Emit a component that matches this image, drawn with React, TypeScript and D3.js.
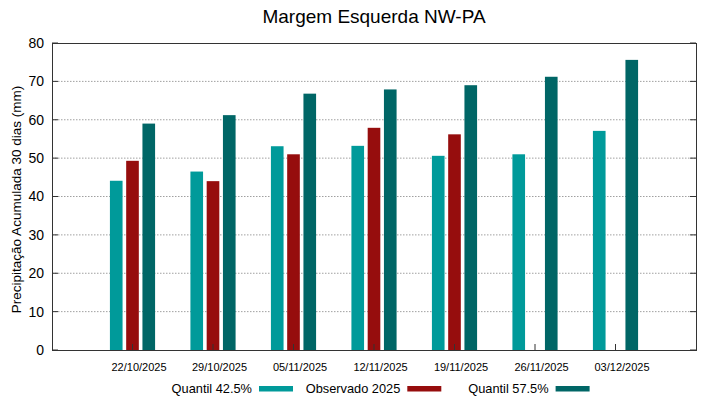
import { useEffect, useRef } from "react";
import * as d3 from "d3";

const categories = ["22/10/2025", "29/10/2025", "05/11/2025", "12/11/2025", "19/11/2025", "26/11/2025", "03/12/2025"];
const quantil425 = [44.1, 46.5, 53.1, 53.2, 50.6, 51.0, 57.1];
const observado2025 = [49.3, 44.0, 51.0, 57.9, 56.2, null, null];
const quantil575 = [59.0, 61.2, 66.8, 67.9, 69.0, 71.2, 75.6];
const yTicks = [0, 10, 20, 30, 40, 50, 60, 70, 80];

const series = [
  { name: "Quantil 42.5%", values: quantil425, color: "#009a9a" },
  { name: "Observado 2025", values: observado2025, color: "#960d0d" },
  { name: "Quantil 57.5%", values: quantil575, color: "#006666" },
];

const W = 719;
const H = 399;
const margin = { left: 52, right: 23, top: 43, bottom: 49 };
const font = "'Liberation Sans', Arial, sans-serif";

export default function App() {
  const svgRef = useRef<SVGSVGElement>(null);

  useEffect(() => {
    const svg = d3.select(svgRef.current);
    svg.selectAll("*").remove();

    const x0 = margin.left;
    const x1 = W - margin.right;
    const yTop = margin.top;
    const yBot = H - margin.bottom;

    // group centers: one empty slot on each side
    const x = d3.scaleLinear().domain([-1, categories.length]).range([x0, x1]);
    const y = d3.scaleLinear().domain([0, 80]).range([yBot, yTop]);
    const step = x(1) - x(0);
    const barW = step * 0.157;
    const barGap = step * 0.202;

    // grid
    svg.selectAll(".grid")
      .data(yTicks.filter(t => t > 0 && t < 80))
      .join("line")
      .attr("x1", x0).attr("x2", x1)
      .attr("y1", d => y(d)).attr("y2", d => y(d))
      .attr("stroke", "#a0a0a0")
      .attr("stroke-width", 1)
      .attr("stroke-dasharray", "1.5,1.5");

    // bars
    series.forEach((s, si) => {
      svg.append("g")
        .selectAll("rect")
        .data(s.values.map((v, i) => ({ v, i })).filter(d => d.v != null))
        .join("rect")
        .attr("x", d => x(d.i) + (si - 1) * barGap - barW / 2)
        .attr("y", d => y(d.v as number))
        .attr("width", barW)
        .attr("height", d => yBot - y(d.v as number))
        .attr("fill", s.color);
    });

    // frame
    svg.append("rect")
      .attr("x", x0 + 0.5).attr("y", yTop + 0.5)
      .attr("width", x1 - x0).attr("height", yBot - yTop)
      .attr("fill", "none").attr("stroke", "#333").attr("stroke-width", 1);

    // y ticks + labels
    const yt = svg.append("g");
    yTicks.forEach(t => {
      yt.append("line").attr("x1", x0).attr("x2", x0 + 6).attr("y1", y(t)).attr("y2", y(t)).attr("stroke", "#333");
      yt.append("line").attr("x1", x1 - 6).attr("x2", x1).attr("y1", y(t)).attr("y2", y(t)).attr("stroke", "#333");
      yt.append("text")
        .attr("x", x0 - 8).attr("y", y(t)).attr("dy", "0.35em")
        .attr("text-anchor", "end")
        .attr("font-family", font).attr("font-size", 14)
        .text(t);
    });

    // x ticks
    categories.forEach((c, i) => {
      svg.append("line")
        .attr("x1", x(i)).attr("x2", x(i))
        .attr("y1", yBot).attr("y2", yBot - 6)
        .attr("stroke", "#333");
    });

    // x labels (slightly right of the tick, like gnuplot)
    svg.append("g")
      .selectAll("text")
      .data(categories)
      .join("text")
      .attr("x", (d, i) => x(i) + 6.5)
      .attr("y", yBot + 21)
      .attr("text-anchor", "middle")
      .attr("font-family", font).attr("font-size", 11)
      .text(d => d);

    // y axis title
    svg.append("text")
      .attr("transform", `translate(21,${(yTop + yBot) / 2 + 3}) rotate(-90)`)
      .attr("text-anchor", "middle")
      .attr("font-family", font).attr("font-size", 13.5)
      .text("Precipitação Acumulada 30 dias (mm)");

    // title
    svg.append("text")
      .attr("x", 374).attr("y", 23)
      .attr("text-anchor", "middle")
      .attr("font-family", font).attr("font-size", 19)
      .text("Margem Esquerda NW-PA");

    // legend
    const legendX = d3.scaleLinear().domain([0, 1]).range([259, 407.3]);
    series.forEach((s, si) => {
      const lx = legendX(si);
      svg.append("text")
        .attr("x", lx - 7).attr("y", 392.5)
        .attr("text-anchor", "end")
        .attr("font-family", font).attr("font-size", 12.8)
        .text(s.name);
      svg.append("rect")
        .attr("x", lx).attr("y", 386)
        .attr("width", 34).attr("height", 5.5)
        .attr("fill", s.color);
    });
  }, []);

  return (
    <svg
      ref={svgRef}
      width={W}
      height={H}
      style={{ position: "absolute", left: 0, top: 0, background: "#fff" }}
    />
  );
}
